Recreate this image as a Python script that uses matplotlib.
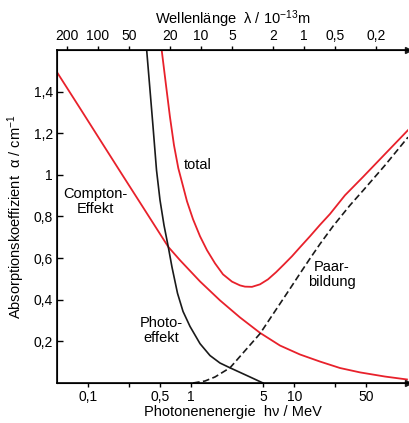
import numpy as np
import matplotlib
matplotlib.use("Agg")
import matplotlib.pyplot as plt

plt.rcParams['font.family'] = ['Liberation Sans', 'DejaVu Sans']
plt.rcParams['mathtext.fontset'] = 'custom'
plt.rcParams['mathtext.rm'] = 'Liberation Sans'
plt.rcParams['mathtext.it'] = 'Liberation Sans:italic'
plt.rcParams['font.size'] = 10

# photon energy in MeV, absorption coefficient in 1/cm
compton_E = [0.0494, 0.0833, 0.130, 0.211, 0.318, 0.598, 0.777, 1.215, 1.898, 2.968,
             4.638, 7.251, 11.33, 17.72, 27.70, 43.28, 75.65, 123.6]
compton_a = [1.496, 1.320, 1.169, 1.005, 0.867, 0.654, 0.590, 0.488, 0.397, 0.315,
             0.241, 0.180, 0.137, 0.103, 0.072, 0.051, 0.031, 0.017]

photo_E = [0.362, 0.369, 0.3975, 0.425, 0.4597, 0.497, 0.5435, 0.598, 0.650, 0.735,
           0.831, 0.971, 1.215, 1.518, 1.898, 2.374, 2.968, 3.710, 4.96]
photo_a = [1.648, 1.600, 1.408, 1.234, 1.023, 0.879, 0.758, 0.654, 0.556, 0.431,
           0.344, 0.272, 0.189, 0.132, 0.096, 0.073, 0.051, 0.029, 0.0]

pair_E = [1.04, 1.358, 1.698, 2.374, 3.318, 4.638, 6.485, 9.066, 11.33, 14.17,
          17.72, 23.84, 34.62, 46.60, 75.65, 126.5]
pair_a = [0.0, 0.0096, 0.029, 0.073, 0.155, 0.237, 0.345, 0.453, 0.526, 0.598,
          0.668, 0.755, 0.854, 0.926, 1.046, 1.181]

total_E = [0.51, 0.516, 0.568, 0.621, 0.679, 0.748, 0.831, 0.908, 1.039, 1.215, 1.420,
           1.698, 2.030, 2.482, 2.968, 3.318, 3.879, 4.638, 5.546, 6.631, 7.927,
           9.478, 11.33, 14.17, 17.72, 22.14, 30.96, 46.29, 75.65, 126.5]
total_a = [1.63, 1.600, 1.432, 1.278, 1.143, 1.032, 0.946, 0.873, 0.787, 0.705, 0.638,
           0.575, 0.522, 0.487, 0.469, 0.463, 0.462, 0.474, 0.498, 0.532, 0.570,
           0.609, 0.652, 0.705, 0.760, 0.812, 0.902, 0.990, 1.100, 1.215]

bottom_ticks = [0.1, 0.5, 1, 5, 10, 50]
bottom_labels = ["0,1", "0,5", "1", "5", "10", "50"]
bottom_minor = [0.25, 25]
lam_ticks = [200, 100, 50, 20, 10, 5, 2, 1, 0.5, 0.2]
lam_labels = ["200", "100", "50", "20", "10", "5", "2", "1", "0,5", "0,2"]
y_ticks = [0.2, 0.4, 0.6, 0.8, 1.0, 1.2, 1.4]
y_labels = ["0,2", "0,4", "0,6", "0,8", "1", "1,2", "1,4"]
hc = 12.4  # MeV * 10^-13 m

red = "#e8212b"
black = "#1a1a1a"

fig = plt.figure(figsize=(4.09, 4.23), dpi=100)
ax = fig.add_axes([57 / 409, 40 / 423, 351 / 409, 333 / 423])
ax.set_xscale('log')
ax.set_xlim(0.0498, 126.5)
ax.set_ylim(0, 1.6)

ax.plot(compton_E, compton_a, color=red, lw=1.3)
ax.plot(total_E, total_a, color=red, lw=1.3)
ax.plot(photo_E, photo_a, color=black, lw=1.2)
ax.plot(pair_E, pair_a, color=black, lw=1.2, dashes=(4, 2))

ax.spines['right'].set_visible(False)
for s in ['left', 'bottom', 'top']:
    ax.spines[s].set_linewidth(1.2)

ax.set_xticks(bottom_ticks)
ax.set_xticklabels(bottom_labels)
ax.set_xticks(bottom_minor, minor=True)
ax.xaxis.set_minor_formatter(matplotlib.ticker.NullFormatter())
ax.tick_params(axis='x', which='both', direction='out', length=3, width=1, pad=2)
ax.set_yticks(y_ticks)
ax.set_yticklabels(y_labels)
ax.tick_params(axis='y', direction='in', length=4, width=1, pad=3)

ax.set_xlabel("Photonenenergie  hν / MeV", fontsize=10.5, labelpad=1)
ax.set_ylabel("Absorptionskoeffizient  α / cm$^{-1}$", fontsize=10.5)
ax.yaxis.set_label_coords(-0.085, 0.5)

top = ax.twiny()
top.set_xscale('log')
top.set_xlim(ax.get_xlim())
top.set_xticks([hc / l for l in lam_ticks])
top.set_xticklabels(lam_labels)
top.xaxis.set_minor_locator(matplotlib.ticker.NullLocator())
top.tick_params(axis='x', direction='out', length=3, width=1, pad=2)
top.spines['right'].set_visible(False)
top.set_xlabel("Wellenlänge  λ / 10$^{-13}$m", fontsize=10.5, labelpad=4)

# arrow heads at the right end of the energy axes
ax.plot([1, 1], [0, 1], transform=ax.transAxes, ls='none', marker='>',
        ms=4, color=black, clip_on=False)

ax.text(0.1185, 0.873, "Compton-\nEffekt", ha='center', va='center', fontsize=10.5,
        linespacing=1.05)
ax.text(1.16, 1.047, "total", ha='center', va='center', fontsize=10.5)
ax.text(0.516, 0.253, "Photo-\neffekt", ha='center', va='center', fontsize=10.5,
        linespacing=1.05)
ax.text(23.0, 0.522, "Paar-\nbildung", ha='center', va='center', fontsize=10.5,
        linespacing=1.05)

fig.savefig("out.png", dpi=100)
